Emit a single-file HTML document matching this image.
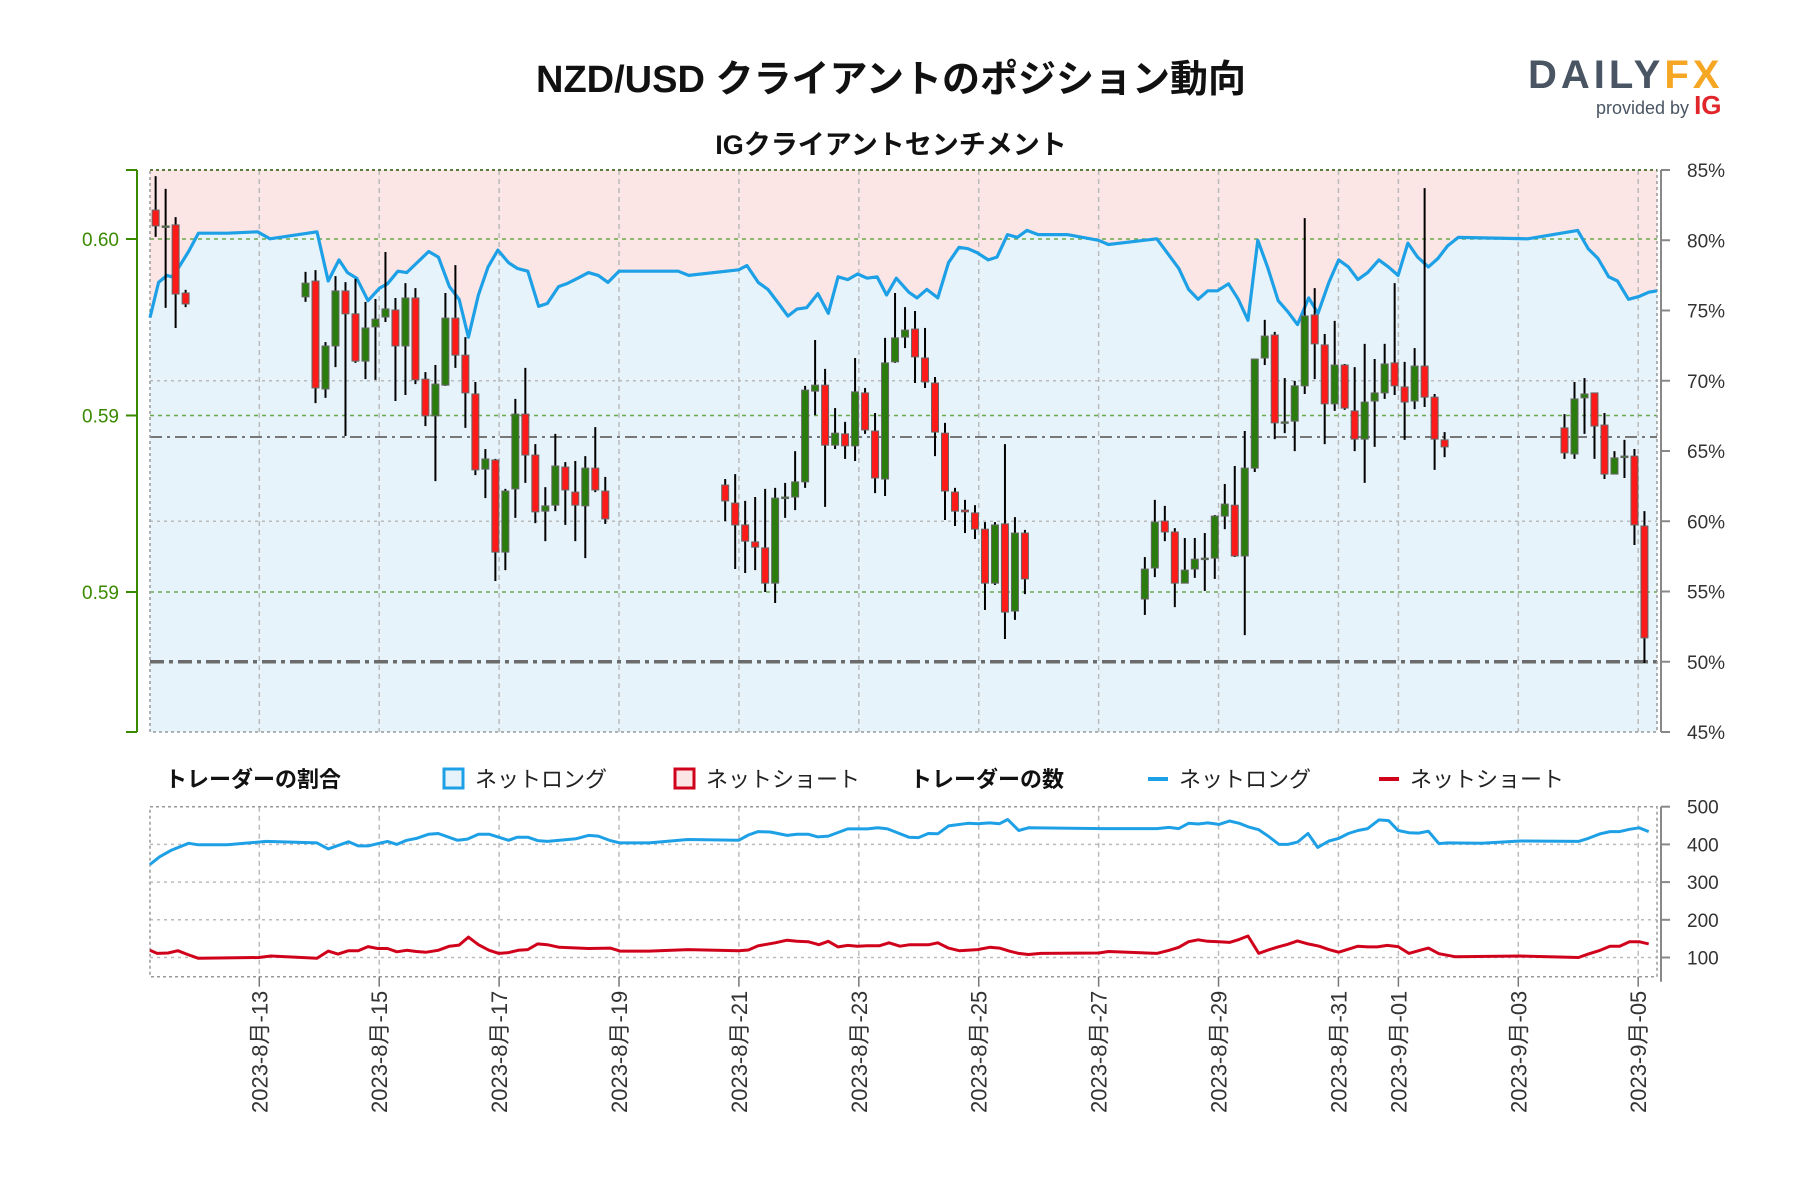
<!DOCTYPE html>
<html><head><meta charset="utf-8"><style>
html,body{margin:0;padding:0;background:#fff;}
svg{display:block;font-family:"Liberation Sans","Noto Sans CJK JP",sans-serif;}
</style></head><body>
<svg id="chart" width="1800" height="1200" viewBox="0 0 1800 1200">
<text x="891" y="92" text-anchor="middle" font-size="38" font-weight="bold" fill="#111" font-family="'Liberation Sans','Noto Sans CJK JP',sans-serif">NZD/USD クライアントのポジション動向</text>
<text x="891" y="154" text-anchor="middle" font-size="27" font-weight="bold" fill="#111">IGクライアントセンチメント</text>
<g>
<text x="1528" y="88" font-size="40" font-weight="bold" fill="#4a5563" letter-spacing="4">DAILY<tspan fill="#f5a623">FX</tspan></text>
<text x="1596" y="114" font-size="18" fill="#4a5563">provided by <tspan font-weight="bold" font-size="26" fill="#e0252b">IG</tspan></text>
</g>
<g id="main"></g>
<g id="legend">
<text x="165" y="787" font-size="22" font-weight="bold" fill="#111">トレーダーの割合</text>
<rect x="444" y="769" width="19" height="19" fill="#e6f3fb" stroke="#1ea0e6" stroke-width="3"/>
<text x="475" y="787" font-size="22" fill="#222">ネットロング</text>
<rect x="675" y="769" width="19" height="19" fill="#fbe5e5" stroke="#d0021b" stroke-width="3"/>
<text x="706" y="787" font-size="22" fill="#222">ネットショート</text>
<text x="910" y="787" font-size="22" font-weight="bold" fill="#111">トレーダーの数</text>
<line x1="1148" y1="779" x2="1168" y2="779" stroke="#1ea0e6" stroke-width="4"/>
<text x="1179" y="787" font-size="22" fill="#222">ネットロング</text>
<line x1="1379" y1="779" x2="1399" y2="779" stroke="#d0021b" stroke-width="4"/>
<text x="1410" y="787" font-size="22" fill="#222">ネットショート</text>
</g>
<g id="lower"></g>
<g id="xaxis"></g>
</svg>
<script>
// ---- data ----
const dateLabels = ["2023-8月-13","2023-8月-15","2023-8月-17","2023-8月-19","2023-8月-21","2023-8月-23","2023-8月-25","2023-8月-27","2023-8月-29","2023-8月-31","2023-9月-01","2023-9月-03","2023-9月-05"];
const dateDays = [2,4,6,8,10,12,14,16,18,20,21,23,25];
const priceTicks = [0.600,0.595,0.590];
const priceTickLabels = ["0.60","0.59","0.59"];
const pctTicks = [85,80,75,70,65,60,55,50,45];
const countTicks = [500,400,300,200,100];
// candles: [slot(4h), open, high, low, close]
const candles = [
[0,.60082,.60178,.60006,.60037],[1,.60037,.60142,.59805,.60037],[2,.60040,.60062,.59748,.59844],[3,.59847,.59856,.59807,.59816],
[15,.59836,.59907,.59822,.59875],[16,.59881,.59912,.59535,.59578],[17,.59575,.59708,.59550,.59697],[18,.59697,.59895,.59637,.59853],
[19,.59853,.59878,.59442,.59788],[20,.59788,.59887,.59649,.59654],[21,.59654,.59822,.59603,.59748],[22,.59751,.59830,.59601,.59773],
[23,.59779,.59963,.59765,.59802],[24,.59799,.59833,.59541,.59697],[25,.59697,.59875,.59558,.59833],[26,.59833,.59861,.59589,.59601],
[27,.59603,.59623,.59470,.59499],[28,.59499,.59643,.59314,.59589],[29,.59586,.59847,.59584,.59776],[30,.59776,.59926,.59635,.59671],
[31,.59671,.59722,.59465,.59564],[32,.59561,.59595,.59331,.59346],[33,.59348,.59405,.59266,.59377],[34,.59374,.59377,.59031,.59113],
[35,.59113,.59292,.59062,.59286],[36,.59292,.59547,.59210,.59504],[37,.59504,.59635,.59309,.59388],[38,.59388,.59419,.59195,.59227],
[39,.59229,.59297,.59144,.59244],[40,.59246,.59448,.59229,.59357],[41,.59354,.59368,.59190,.59289],[42,.59283,.59371,.59144,.59246],
[43,.59244,.59385,.59096,.59351],[44,.59351,.59467,.59283,.59289],[45,.59286,.59326,.59193,.59207],
[57,.59303,.59320,.59201,.59258],[58,.59252,.59334,.59065,.59190],[59,.59190,.59258,.59054,.59144],[60,.59142,.59269,.59062,.59127],
[61,.59125,.59292,.59000,.59025],[62,.59025,.59295,.58969,.59266],[63,.59269,.59309,.59210,.59269],[64,.59269,.59399,.59232,.59312],
[65,.59312,.59584,.59295,.59572],[66,.59569,.59714,.59501,.59586],[67,.59586,.59632,.59241,.59416],[68,.59416,.59521,.59405,.59450],
[69,.59448,.59482,.59377,.59414],[70,.59414,.59663,.59371,.59567],[71,.59564,.59578,.59448,.59459],[72,.59456,.59507,.59280,.59323],
[73,.59320,.59720,.59272,.59649],[74,.59652,.59847,.59649,.59720],[75,.59722,.59807,.59691,.59742],[76,.59745,.59796,.59592,.59666],
[77,.59663,.59748,.59578,.59595],[78,.59592,.59609,.59385,.59453],[79,.59450,.59479,.59204,.59286],[80,.59283,.59295,.59187,.59229],
[81,.59232,.59261,.59167,.59227],[82,.59224,.59246,.59150,.59178],[83,.59178,.59198,.58949,.59025],[84,.59025,.59198,.59020,.59190],
[85,.59193,.59419,.58867,.58943],[86,.58946,.59212,.58921,.59167],[87,.59167,.59176,.58994,.59037],
[99,.58980,.59099,.58935,.59065],[100,.59068,.59261,.59042,.59198],[101,.59201,.59244,.59144,.59170],[102,.59170,.59181,.58957,.59025],
[103,.59025,.59153,.59025,.59062],[104,.59065,.59153,.59040,.59093],[105,.59096,.59167,.59003,.59096],[106,.59096,.59218,.59037,.59215],
[107,.59215,.59306,.59178,.59249],[108,.59246,.59357,.59099,.59102],[109,.59102,.59456,.58878,.59351],[110,.59351,.59660,.59340,.59660],
[111,.59663,.59771,.59643,.59725],[112,.59728,.59737,.59433,.59479],[113,.59482,.59606,.59450,.59482],[114,.59484,.59598,.59399,.59584],
[115,.59584,.60059,.59561,.59782],[116,.59785,.59861,.59603,.59703],[117,.59700,.59731,.59419,.59533],[118,.59533,.59768,.59513,.59643],
[119,.59643,.59646,.59516,.59521],[120,.59513,.59637,.59399,.59433],[121,.59433,.59703,.59309,.59538],[122,.59541,.59660,.59411,.59564],
[123,.59564,.59703,.59547,.59646],[124,.59649,.59875,.59558,.59584],[125,.59581,.59652,.59431,.59538],[126,.59541,.59691,.59518,.59640],
[127,.59640,.60144,.59524,.59552],[128,.59552,.59561,.59346,.59433],[129,.59431,.59453,.59382,.59411],
[141,.59465,.59504,.59377,.59394],[142,.59391,.59595,.59377,.59547],[143,.59550,.59606,.59448,.59561],[144,.59564,.59564,.59377,.59470],
[145,.59473,.59507,.59320,.59334],[146,.59334,.59399,.59334,.59380],[147,.59385,.59431,.59323,.59385],[148,.59385,.59405,.59133,.59190],
[149,.59187,.59229,.58799,.58870]
];
const refPrice = 0.59439;
const refPct = 50;
const sentHours = [3.8,7.7,11,12.9,15.5,19.7,23.6,35.2,47.3,52.3,71.1,75.6,79.9,83.3,87,91.5,96.2,99.3,103.5,107,115.8,119.7,124.1,128,131.7,135.7,139.6,143.5,147.8,151.3,155.5,159.8,163.3,167.8,171,175.5,179.8,183.7,187.6,192,215.7,219.9,239.9,243.2,247.7,251.6,255.5,259.6,263.2,267.1,271.6,275.8,279.7,283.6,287.5,291.3,295.3,299.1,303,308,311.3,315.2,319.6,323.9,328.1,331.7,335.5,339.8,343.3,347.5,351.4,355.3,359.8,371.4,384,387.9,407.3,416.1,420,423.8,427.7,431.6,436,439.9,443.8,447.7,451.6,455.9,459.8,463.6,468.1,471.8,476.2,480.1,484,487.8,491.7,496.2,500,503.9,507.8,511.7,516,519.8,523.7,528,555.8,575.8,580,583.9,588.2,591.7,596.1,600.4,604.3,607.5];
const sentPct = [74.5,77.0,77.5,77.4,78.0,79.2,80.5,80.5,80.6,80.1,80.6,77.1,78.6,77.7,77.3,75.7,76.6,76.9,77.8,77.7,79.2,78.8,76.7,75.8,73.1,76.1,78.1,79.3,78.4,78.0,77.8,75.3,75.5,76.7,76.9,77.3,77.7,77.5,77.0,77.8,77.8,77.5,77.9,78.2,77.0,76.5,75.6,74.6,75.1,75.2,76.2,74.8,77.4,77.2,77.6,77.3,77.4,76.1,77.3,76.3,75.9,76.5,75.9,78.4,79.5,79.4,79.1,78.6,78.8,80.4,80.2,80.7,80.4,80.4,80.0,79.7,80.1,78.0,76.5,75.8,76.4,76.4,76.9,75.8,74.3,80.0,78.1,75.7,74.9,74.0,75.9,74.8,77.0,78.6,78.1,77.2,77.7,78.6,78.1,77.5,79.8,78.8,78.1,78.7,79.6,80.2,80.1,80.7,79.4,78.7,77.4,77.1,75.8,76.0,76.3,76.4];
const longHours = [3.8,8.1,12.9,19.7,23.6,35.2,50.7,71.1,75.6,83.7,87.6,91.5,99.3,103.1,107,110.9,115.8,119.6,127.4,131.3,135.7,140,147.8,151.3,155.5,159.4,163.3,174.9,179.8,183.7,188.5,192.4,204.1,219.6,239.9,243.8,247.7,252.6,259.3,263.2,267.7,271.6,275.8,283.6,291.4,295.6,299.5,308,311.9,315.8,319.6,323.9,331.7,335.5,340.4,344.3,347.6,352,355.9,372.4,386,407.3,412.2,416.1,420,423.8,427.7,432.2,436.4,440.3,444.2,448.1,451.9,456.2,459.7,463.6,467.8,471.7,476.2,480.1,484,487.8,491.7,496.2,500.1,503.9,508.2,512.1,516,520.2,523.7,537.3,552.8,576.1,580,584.8,588.7,592.6,596.5,600.4,604.2];
const longCount = [347,367,385,403,399,399,408,404,388,407,396,396,408,400,411,416,427,429,411,414,427,427,411,419,419,410,408,415,424,422,410,404,404,413,411,425,434,433,424,427,427,420,422,441,441,444,441,419,418,429,428,449,456,455,457,455,466,437,444,443,442,442,445,442,456,454,457,453,462,456,446,439,422,400,400,406,429,392,409,416,429,437,442,465,463,437,431,430,435,402,404,403,409,408,416,428,434,434,440,444,434];
const shortHours = [3.8,7.1,11.5,15.4,19.3,23.6,47.8,52.7,71.1,75.6,79.5,83.7,87.6,91.5,95.4,99.3,103.1,107,110.9,114.8,119.6,124.1,128,131.7,135.7,140,143.9,147.8,151.6,155.5,159.4,163.3,168.1,179.8,188.5,192.4,204.1,219.6,239.9,243.8,247.7,254.5,259.3,263.2,267.7,272,275.8,279.7,283.6,287.5,291.4,296.2,300.1,304.5,308.4,312.3,316.1,319.6,323.9,328.2,335.5,340.4,344.3,348.2,352,355.9,360.8,384.1,387.9,407.3,412.2,416.1,420,423.8,427.7,432.2,436.4,440.3,443.8,448.1,451.9,455.8,459.7,463.6,467.8,472.3,476.2,480.1,484,487.8,491.7,495.6,499.5,503.9,508.2,512.1,516,520.2,526.7,552.8,576.1,580,584.8,588.7,592.6,596.5,600.4,604.2];
const shortCount = [119,111,112,118,108,98,100,104,98,117,109,118,118,129,124,124,115,119,116,114,119,130,133,154,134,119,111,113,119,121,136,134,127,124,125,117,117,121,118,120,131,139,146,143,142,134,143,128,132,130,131,131,139,130,134,134,134,139,125,118,121,127,125,117,111,108,111,112,116,111,119,127,142,147,143,142,140,148,157,111,120,128,135,144,136,130,121,114,122,130,128,128,132,129,111,118,125,110,102,104,100,109,119,130,130,142,142,136];

// ---- scales ----
const NS = "http://www.w3.org/2000/svg";
const PL = 150, PR = 1657, PT = 170, PB = 732;
const LT = 806.7, LB = 976.7;
const xH = h => 139.4 + h * 2.498;
const xSlot = s => xH(6.5 + 4 * s);
const yP = p => 239 + (0.6 - p) * 35300;
const yPct = v => PT + (85 - v) * 14.05;
const yC = v => LT + (500 - v) * 0.377;
function mk(parent, tag, attrs, text) {
  const e = document.createElementNS(NS, tag);
  for (const k in attrs) e.setAttribute(k, attrs[k]);
  if (text !== undefined) e.textContent = text;
  parent.appendChild(e);
  return e;
}
const main = document.getElementById('main');
const lower = document.getElementById('lower');
const xaxis = document.getElementById('xaxis');

let e = mk(main, 'rect', {x: PL, y: PT, width: PR - PL, height: PB - PT, fill: '#fbe5e5'});


const n = Math.min(sentHours.length, sentPct.length);
let pts = [];
for (let i = 0; i < n; i++) pts.push(Math.max(PL, xH(sentHours[i])).toFixed(1) + ',' + yPct(sentPct[i]).toFixed(1));
e = mk(main, 'polygon', {points: PL + ',' + PB + ' ' + PL + ',' + yPct(sentPct[0]).toFixed(1) + ' ' + pts.join(' ') + ' ' + PR + ',' + yPct(sentPct[n - 1]).toFixed(1) + ' ' + PR + ',' + PB, fill: '#e6f3fb'});



for (let i = 0; i < dateDays.length; i++) {
  const x = xH(dateDays[i] * 24);
  e = mk(main, 'line', {x1: x, y1: PT, x2: x, y2: PB, stroke: '#bbb', 'stroke-width': 1.5, 'stroke-dasharray': '5,4'});
  
  
  e = mk(lower, 'line', {x1: x, y1: LT, x2: x, y2: LB, stroke: '#bbb', 'stroke-width': 1.5, 'stroke-dasharray': '5,4'});
  
  
  e = mk(xaxis, 'line', {x1: x, y1: LB, x2: x, y2: LB + 10, stroke: '#777', 'stroke-width': 1.5});
  
  
  e = mk(xaxis, 'text', {x: 0, y: 0, transform: 'translate(' + (x + 8) + ',' + (LB + 14) + ') rotate(-90)', 'text-anchor': 'end', 'font-size': 22, fill: '#333'}, dateLabels[i]);
  
  
}
[70, 60].forEach(v => {
  e = mk(main, 'line', {x1: PL, y1: yPct(v), x2: PR, y2: yPct(v), stroke: '#bbb', 'stroke-width': 1.5, 'stroke-dasharray': '3,4'});
  
  
});
priceTicks.forEach(p => {
  e = mk(main, 'line', {x1: PL, y1: yP(p), x2: PR, y2: yP(p), stroke: '#6aaa4a', 'stroke-width': 1.5, 'stroke-dasharray': '4,4'});
  
  
});
e = mk(main, 'line', {x1: PL, y1: yP(refPrice), x2: PR, y2: yP(refPrice), stroke: '#777', 'stroke-width': 2, 'stroke-dasharray': '12,5,3,5'});


e = mk(main, 'line', {x1: PL, y1: yPct(refPct), x2: PR, y2: yPct(refPct), stroke: '#6b6b6b', 'stroke-width': 3.5, 'stroke-dasharray': '14,5,4,5'});


e = mk(main, 'rect', {x: PL, y: PT, width: PR - PL, height: PB - PT, fill: 'none', stroke: '#999', 'stroke-width': 1.5, 'stroke-dasharray': '3,3'});


e = mk(main, 'line', {x1: PL, y1: PT, x2: PR, y2: PT, stroke: '#557a3a', 'stroke-width': 2, 'stroke-dasharray': '3,3'});



e = mk(main, 'polyline', {points: pts.join(' '), fill: 'none', stroke: '#1ea0e6', 'stroke-width': 3.2, 'stroke-linejoin': 'round'});



candles.forEach(c => {
  const x = xSlot(c[0]);
  const up = c[4] >= c[1];
  const g = mk(main, 'g', {});
  
  
  mk(g, 'line', {x1: x, y1: yP(c[2]), x2: x, y2: yP(c[3]), stroke: '#000', 'stroke-width': 2});
  const top = yP(Math.max(c[1], c[4])), bot = yP(Math.min(c[1], c[4]));
  mk(g, 'rect', {x: x - 3.5, y: top, width: 7, height: Math.max(1.5, bot - top), fill: up ? '#2a7d0c' : '#ff1a1a', stroke: '#666', 'stroke-width': 1});
});

e = mk(main, 'line', {x1: 137, y1: PT, x2: 137, y2: PB, stroke: '#3a8a00', 'stroke-width': 2});


[PT, PB].forEach(y => mk(main, 'line', {x1: 126, y1: y, x2: 137, y2: y, stroke: '#3a8a00', 'stroke-width': 2}));
priceTicks.forEach((p, i) => {
  mk(main, 'line', {x1: 126, y1: yP(p), x2: 137, y2: yP(p), stroke: '#3a8a00', 'stroke-width': 2});
  e = mk(main, 'text', {x: 119, y: yP(p) + 7, 'text-anchor': 'end', 'font-size': 19, fill: '#3a8a00'}, priceTickLabels[i]);
  
  
});
e = mk(main, 'line', {x1: 1661, y1: PT, x2: 1661, y2: PB, stroke: '#888', 'stroke-width': 2});


pctTicks.forEach(v => {
  mk(main, 'line', {x1: 1661, y1: yPct(v), x2: 1670, y2: yPct(v), stroke: '#888', 'stroke-width': 2});
  e = mk(main, 'text', {x: 1687, y: yPct(v) + 7, 'font-size': 19, fill: '#333'}, v + '%');
  
  
});

countTicks.slice(1).forEach(v => {
  e = mk(lower, 'line', {x1: PL, y1: yC(v), x2: PR, y2: yC(v), stroke: '#bbb', 'stroke-width': 1.5, 'stroke-dasharray': '3,4'});
  
  
});
e = mk(lower, 'rect', {x: PL, y: LT, width: PR - PL, height: LB - LT, fill: 'none', stroke: '#999', 'stroke-width': 1.5, 'stroke-dasharray': '3,3'});


e = mk(lower, 'line', {x1: 1661, y1: LT, x2: 1661, y2: LB + 5, stroke: '#888', 'stroke-width': 2});


countTicks.forEach(v => {
  mk(lower, 'line', {x1: 1661, y1: yC(v), x2: 1670, y2: yC(v), stroke: '#888', 'stroke-width': 2});
  e = mk(lower, 'text', {x: 1687, y: yC(v) + 7, 'font-size': 19, fill: '#333'}, String(v));
  
  
});
function series(hours, vals, color, name) {
  const m = Math.min(hours.length, vals.length);
  const p = [];
  for (let i = 0; i < m; i++) p.push(Math.max(PL, xH(hours[i])).toFixed(1) + ',' + yC(vals[i]).toFixed(1));
  const el = mk(lower, 'polyline', {points: p.join(' '), fill: 'none', stroke: color, 'stroke-width': 3, 'stroke-linejoin': 'round'});
  
  
}
series(longHours, longCount, '#1ea0e6', 'net-long-count-line');
series(shortHours, shortCount, '#d0021b', 'net-short-count-line');
</script>
</body></html>
